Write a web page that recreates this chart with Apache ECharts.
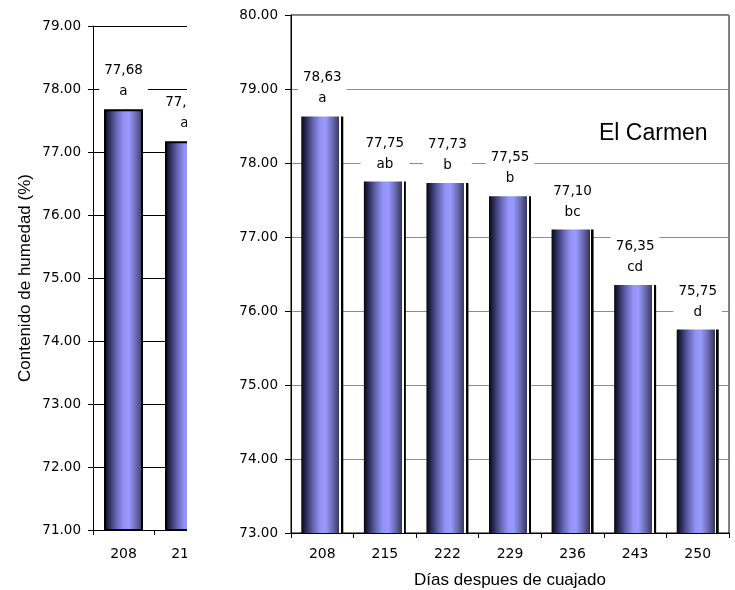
<!DOCTYPE html>
<html>
<head>
<meta charset="utf-8">
<script src="https://cdn.jsdelivr.net/npm/echarts@6/dist/echarts.min.js"></script>
<style>
  html, body { margin: 0; padding: 0; background: #fff; }
  #stage { position: relative; width: 735px; height: 590px; overflow: hidden; background: #fff; }
  #leftClip { position: absolute; left: 0; top: 0; width: 187px; height: 590px; overflow: hidden; }
  #leftChart { position: absolute; left: 0; top: 0; width: 300px; height: 590px; }
  #rightChart { position: absolute; left: 187px; top: 0; width: 548px; height: 590px; }
</style>
</head>
<body>
<div id="stage">
  <div id="leftClip"><div id="leftChart"></div></div>
  <div id="rightChart"></div>
</div>
<script>
// Moisture content (%) by days after fruit set
const leftDays = ['208', '215'];
const leftValues = [77.68, 77.17];
const leftGroups = ['a', 'a'];

const rightDays = ['208', '215', '222', '229', '236', '243', '250'];
const rightValues = [78.63, 77.75, 77.73, 77.55, 77.10, 76.35, 75.75];
const rightGroups = ['a', 'ab', 'b', 'b', 'bc', 'cd', 'd'];

const leftRange = [71, 79];
const rightRange = [73, 80];
const tickStep = 1;

const siteName = 'El Carmen';
const yTitle = 'Contenido de humedad (%)';
const xTitle = 'Días despues de cuajado';

const NUM_FONT = '"DejaVu Sans", sans-serif';
const TXT_FONT = '"Liberation Sans", Arial, sans-serif';

// Cylinder-like shading; optionally with a white gap and a dark side edge
function barFill(withSide) {
  const main = withSide ? 0.905 : 1;
  const stops = [
    [0, '#06060f'], [0.12, '#2a2a56'], [0.32, '#6666b6'], [0.5, '#9393f6'],
    [0.64, '#9999ff'], [0.82, '#6b6bb4'], [1, '#36365e']
  ].map(([o, c]) => ({ offset: o * main, color: c }));
  if (withSide) {
    stops.push(
      { offset: 0.906, color: '#ffffff' }, { offset: 0.945, color: '#ffffff' },
      { offset: 0.946, color: '#000000' }, { offset: 1, color: '#000000' }
    );
  }
  return new echarts.graphic.LinearGradient(0, 0, 1, 0, stops);
}

function valueLabel(groups) {
  return {
    show: true,
    position: 'top',
    distance: 6,
    color: '#000',
    fontFamily: NUM_FONT,
    fontSize: 13.5,
    lineHeight: 21,
    backgroundColor: '#fff',
    padding: [1, 5],
    formatter: p => p.value.toFixed(2).replace('.', ',') + '\n' + groups[p.dataIndex]
  };
}

function yAxisBase(range, lineColor, tickLen, margin) {
  return {
    type: 'value',
    min: range[0],
    max: range[1],
    interval: tickStep,
    axisLine: { show: true, lineStyle: { color: '#000', width: 1 } },
    axisTick: { show: true, length: tickLen, lineStyle: { color: '#000' } },
    axisLabel: {
      color: '#000', fontFamily: NUM_FONT, fontSize: 13.5, margin: margin,
      formatter: v => v.toFixed(2)
    },
    splitLine: { show: true, lineStyle: { color: lineColor, width: 1 } }
  };
}

// Left panel (partially visible)
const leftChart = echarts.init(document.getElementById('leftChart'), null, { renderer: 'canvas' });
leftChart.setOption({
  animation: false,
  grid: { left: 93, top: 26, width: 122, height: 504, show: false, containLabel: false, outerBoundsMode: 'none' },
  xAxis: {
    type: 'category',
    data: leftDays,
    axisLine: { lineStyle: { color: '#000' } },
    axisTick: { show: true, length: 5, lineStyle: { color: '#000' } },
    axisLabel: { color: '#000', fontFamily: NUM_FONT, fontSize: 14, margin: 17 }
  },
  yAxis: Object.assign(yAxisBase(leftRange, '#000', 5, 12), {
    name: yTitle,
    nameLocation: 'middle',
    nameGap: 59,
    nameTextStyle: { color: '#000', fontFamily: TXT_FONT, fontSize: 17 }
  }),
  series: [{
    type: 'bar',
    data: leftValues,
    barWidth: 39,
    itemStyle: { color: barFill(false), borderColor: '#000', borderWidth: 2 },
    label: valueLabel(leftGroups)
  }]
});

// Right panel: El Carmen
const rightChart = echarts.init(document.getElementById('rightChart'), null, { renderer: 'canvas' });
rightChart.setOption({
  animation: false,
  grid: {
    left: 104, top: 15, width: 438, height: 518,
    show: true, borderColor: '#000', borderWidth: 1,
    containLabel: false, outerBoundsMode: 'none'
  },
  xAxis: {
    type: 'category',
    data: rightDays,
    name: xTitle,
    nameLocation: 'middle',
    nameGap: 39,
    nameTextStyle: { color: '#000', fontFamily: TXT_FONT, fontSize: 17 },
    axisLine: { lineStyle: { color: '#000' } },
    axisTick: { show: true, length: 5, lineStyle: { color: '#000' } },
    axisLabel: { color: '#000', fontFamily: NUM_FONT, fontSize: 14, margin: 14 }
  },
  yAxis: yAxisBase(rightRange, '#8c8c8c', 6, 13),
  series: [{
    type: 'bar',
    data: rightValues,
    barWidth: 42,
    itemStyle: { color: barFill(true) },
    label: valueLabel(rightGroups)
  }],
  graphic: [{
    type: 'text',
    left: 412,
    top: 122,
    style: { text: siteName, fill: '#000', font: '23px ' + TXT_FONT }
  }]
});
</script>
</body>
</html>
